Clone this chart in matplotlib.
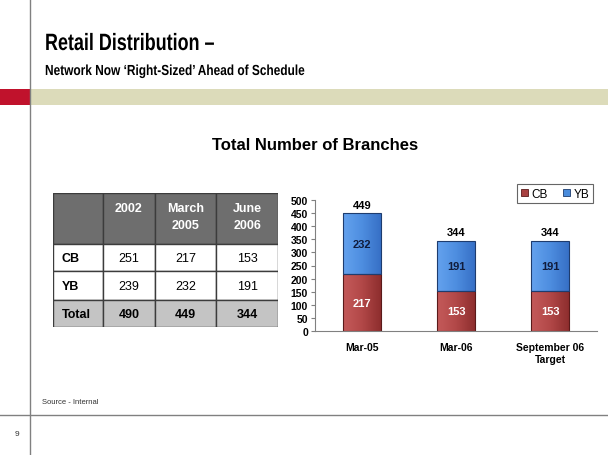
import numpy as np
import matplotlib.pyplot as plt
from matplotlib.patches import Rectangle, PathPatch
from matplotlib.textpath import TextPath
from matplotlib.font_manager import FontProperties
from matplotlib.transforms import Affine2D
from matplotlib.colors import LinearSegmentedColormap

plt.rcParams['font.family'] = ['Liberation Sans', 'DejaVu Sans']

# chart data
periods = ["Mar-05", "Mar-06", "September 06\nTarget"]
cb = [217, 153, 153]
yb = [232, 191, 191]
totals = [449, 344, 344]

# table data
tbl_cols = ["", "2002", "March\n2005", "June\n2006"]
tbl_rows = ["CB", "YB", "Total"]
tbl_vals = [[251, 217, 153],
            [239, 232, 191],
            [490, 449, 344]]

W, H = 608, 456
fig = plt.figure(figsize=(W / 100, H / 100), dpi=100)


def fx(px):
    return px / W


def fy(py):
    return 1 - py / H


# slide decorations
bg = fig.add_axes([0, 0, 1, 1])
bg.set_xlim(0, W)
bg.set_ylim(H, 0)
bg.axis("off")
bg.add_patch(Rectangle((0, 90), 30, 16, color="#C0122C", lw=0))
bg.add_patch(Rectangle((30, 90), W - 30, 16, color="#DCDBBA", lw=0))
bg.plot([30, 30], [0, H], color="#808080", lw=1)
bg.plot([0, W], [416, 416], color="#808080", lw=1)


def narrow_text(x, y, s, size_pt, squeeze):
    # condensed bold heading, baseline at pixel y
    prop = FontProperties(family="Liberation Sans", weight="bold")
    tp = TextPath((0, 0), s, size=size_pt * 100 / 72, prop=prop)
    tr = Affine2D().scale(squeeze, -1).translate(x, y) + bg.transData
    bg.add_patch(PathPatch(tp, transform=tr, facecolor="black", lw=0))


narrow_text(45, 51, "Retail Distribution \u2013", 17, 0.76)
narrow_text(45, 76, "Network Now \u2018Right-Sized\u2019 Ahead of Schedule", 10.5, 0.815)
bg.text(315, 146, "Total Number of Branches", fontsize=12, fontweight="bold",
        va="center", ha="center")
bg.text(42, 403, "Source - Internal", fontsize=5.5, color="#333333", va="center")
bg.text(17, 435, "9", fontsize=6, color="#333333", va="center", ha="center")

# table
tb = fig.add_axes([fx(53), fy(328), fx(278 - 53), (328 - 194) / H])
tb.set_xlim(0, 1)
tb.set_ylim(0, 1)
tb.axis("off")
col_x = [0, 0.22, 0.455, 0.725, 1]
row_y = [1, 0.62, 0.415, 0.2, 0]
for j in range(4):
    tb.add_patch(Rectangle((col_x[j], row_y[1]), col_x[j + 1] - col_x[j], row_y[0] - row_y[1],
                           facecolor="#6E6E6E", edgecolor="#3C3C3C", lw=1))
    if j > 0:
        tb.text((col_x[j] + col_x[j + 1]) / 2, row_y[0] - 0.07, tbl_cols[j], color="white",
                fontsize=9, fontweight="bold", ha="center", va="top", linespacing=1.55)
for i, name in enumerate(tbl_rows):
    face = "#C4C4C4" if name == "Total" else "white"
    weight = "bold" if name == "Total" else "normal"
    y0, y1 = row_y[i + 2], row_y[i + 1]
    for j in range(4):
        tb.add_patch(Rectangle((col_x[j], y0), col_x[j + 1] - col_x[j], y1 - y0,
                               facecolor=face, edgecolor="#3C3C3C", lw=1))
    tb.text(col_x[0] + 0.04, (y0 + y1) / 2, name, fontsize=9, fontweight="bold",
            ha="left", va="center")
    for j, v in enumerate(tbl_vals[i]):
        tb.text((col_x[j + 1] + col_x[j + 2]) / 2, (y0 + y1) / 2, str(v), fontsize=9,
                fontweight=weight, ha="center", va="center")

# stacked bar chart
ax = fig.add_axes([fx(315), fy(332), fx(597 - 315), (332 - 201) / H])
x = np.arange(len(periods))
b1 = ax.bar(x, cb, width=0.4, color="#A84040", edgecolor="#5A1A1A", lw=0.8, label="CB")
b2 = ax.bar(x, yb, width=0.4, bottom=cb, color="#4A8CDC", edgecolor="#1E3C6E", lw=0.8, label="YB")

# horizontal shading inside the bars
cmaps = [LinearSegmentedColormap.from_list("cb", ["#C45A5A", "#B24848", "#8E2E2E"]),
         LinearSegmentedColormap.from_list("yb", ["#64A2EE", "#4E8EE0", "#3770C6"])]
grad = np.linspace(0, 1, 64).reshape(1, -1)
for bars, cm in zip([b1, b2], cmaps):
    for p in bars:
        x0, y0 = p.get_xy()
        im = ax.imshow(grad, cmap=cm, aspect="auto", zorder=p.get_zorder() - 0.01,
                       extent=[x0, x0 + p.get_width(), y0, y0 + p.get_height()])
        im.set_clip_path(p)

for xi, c, y, t in zip(x, cb, yb, totals):
    ax.text(xi, c / 2, str(c), color="white", fontsize=8, fontweight="bold",
            ha="center", va="center")
    ax.text(xi, c + y / 2, str(y), color="#101C3C", fontsize=8, fontweight="bold",
            ha="center", va="center")
    ax.text(xi, t + 14, str(t), color="black", fontsize=8, fontweight="bold",
            ha="center", va="bottom")
for p in list(b1) + list(b2):
    p.set_facecolor("none")
ax.set_xlim(-0.5, 2.5)
ax.set_ylim(0, 500)
ax.set_yticks(np.arange(0, 501, 50))
ax.set_xticks(x)
ax.set_xticklabels(periods, fontsize=7.5, fontweight="bold")
ax.tick_params(axis="y", labelsize=7.5, length=3, color="#808080", pad=2)
ax.tick_params(axis="x", length=0, pad=8)
for lab in ax.get_yticklabels():
    lab.set_fontweight("bold")
for s in ["top", "right"]:
    ax.spines[s].set_visible(False)
for s in ["left", "bottom"]:
    ax.spines[s].set_color("#808080")

leg_handles = [Rectangle((0, 0), 1, 1, facecolor="#A84040", edgecolor="#5A1A1A", lw=0.6),
               Rectangle((0, 0), 1, 1, facecolor="#4A8CDC", edgecolor="#1E3C6E", lw=0.6)]
leg = ax.legend(leg_handles, ["CB", "YB"], loc="upper right", bbox_to_anchor=(fx(593), fy(185)),
                bbox_transform=fig.transFigure, ncol=2, fontsize=8.5, frameon=True,
                fancybox=False, edgecolor="#404040", handlelength=0.6, handleheight=0.6,
                handletextpad=0.3, columnspacing=1.3, borderpad=0.3, borderaxespad=0)
leg.get_frame().set_linewidth(0.8)

fig.savefig("out.png", dpi=100)
